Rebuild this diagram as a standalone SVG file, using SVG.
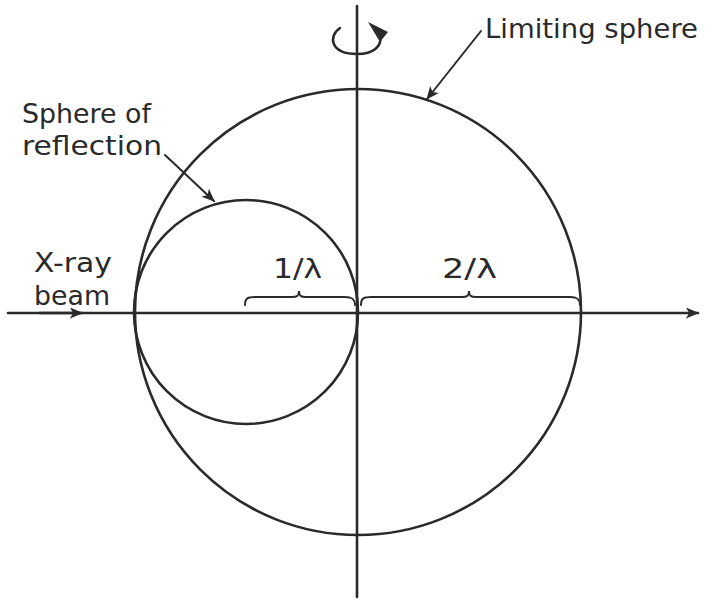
<svg xmlns="http://www.w3.org/2000/svg" width="705" height="601" viewBox="0 0 705 601">
<defs>
<style>
.ln{fill:none;stroke:#2a2a2a;stroke-width:2.6;stroke-linecap:round}
.th{fill:none;stroke:#2a2a2a;stroke-width:2;stroke-linecap:round}
text{font-family:"DejaVu Sans","Liberation Sans",sans-serif;font-size:27px;fill:#2a2a2a}
</style>
<marker id="ah" viewBox="0 0 12 10" refX="11" refY="5" markerWidth="14" markerHeight="11" markerUnits="userSpaceOnUse" orient="auto">
<path d="M0,0 L12,5 L0,10 L3,5 Z" fill="#2a2a2a"/>
</marker>
</defs>
<rect width="705" height="601" fill="#fff"/>
<g id="limiting-sphere"><circle class="ln" cx="358" cy="312" r="223"/></g>
<g id="sphere-of-reflection"><circle class="ln" cx="246" cy="312" r="112"/></g>
<g id="connectors">
<line class="ln" x1="8" y1="313" x2="698" y2="313" marker-end="url(#ah)"/>
<line class="ln" x1="40" y1="313" x2="82" y2="313" marker-end="url(#ah)"/>
<line class="ln" x1="357" y1="6" x2="357" y2="597"/>
<path class="ln" d="M340,28 C328,36 330,54 357,54 C374,54 382,46 380,36"/>
<path d="M368,22 L388,32 L380,42 L374,32 Z" fill="#2a2a2a"/>
<line class="th" x1="481" y1="31" x2="427" y2="99" marker-end="url(#ah)"/>
<line class="th" x1="165" y1="155" x2="214" y2="201" marker-end="url(#ah)"/>
<path class="th" d="M245,305 C245,298 248,297 255,297 L292,297 C297,297 299,296 299,291 C299,296 301,297 306,297 L345,297 C352,297 355,299 355,305"/>
<path class="th" d="M361,305 C361,298 364,297 371,297 L462,297 C467,297 469,296 469,291 C469,296 471,297 476,297 L570,297 C577,297 580,299 580,305"/>
</g>
<g id="labels">
<text x="485" y="38" textLength="213" lengthAdjust="spacingAndGlyphs">Limiting sphere</text>
<text x="22" y="123" textLength="129" lengthAdjust="spacingAndGlyphs">Sphere of</text>
<text x="22" y="155" textLength="140" lengthAdjust="spacingAndGlyphs">reflection</text>
<text x="34" y="272" textLength="78" lengthAdjust="spacingAndGlyphs">X-ray</text>
<text x="34" y="305" textLength="76" lengthAdjust="spacingAndGlyphs">beam</text>
<text x="273" y="278" textLength="49" lengthAdjust="spacingAndGlyphs">1/λ</text>
<text x="442" y="278" textLength="55" lengthAdjust="spacingAndGlyphs">2/λ</text>
</g>
</svg>
